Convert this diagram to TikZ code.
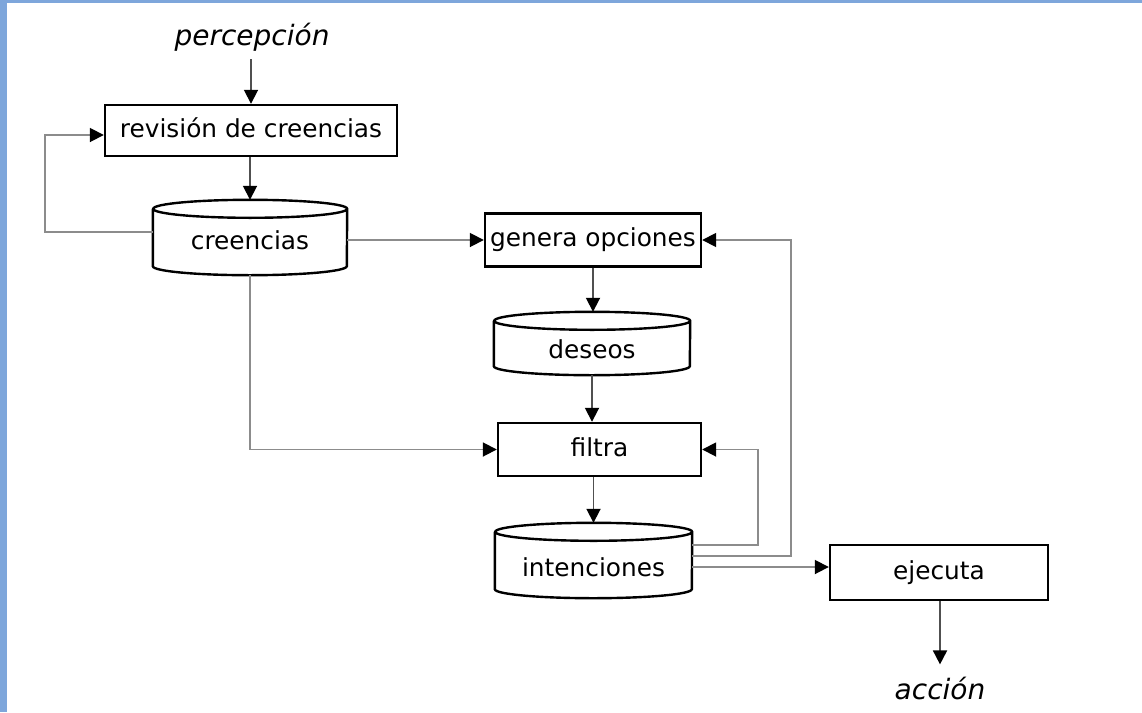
\documentclass[tikz,border=0pt]{standalone}
\usepackage{fontspec}
\setmainfont{DejaVu Sans}
\usetikzlibrary{arrows.meta,calc}
\definecolor{frameblue}{RGB}{126,166,219}
\definecolor{connc}{RGB}{140,140,140}
\definecolor{arrc}{RGB}{80,80,80}
\newcommand\cylshape[2]{%
  \draw[cylline] ([yshift=-9pt]#1.north west) -- ([yshift=9pt]#1.south west)
    arc[start angle=180,end angle=360,x radius=#2,y radius=9pt]
    -- ([yshift=-9pt]#1.north east)
    arc[start angle=0,end angle=360,x radius=#2,y radius=9pt];}
\begin{document}
\begin{tikzpicture}[x=1pt,y=1pt,
  lbl/.style={font=\fontsize{24.8}{28}\selectfont, inner sep=0pt},
  box/.style={lbl, draw=black, line width=2.4pt, rectangle, text height=18pt, text depth=5pt},
  cyl/.style n args={3}{lbl, rectangle, minimum width=#1, minimum height=#2, text height=#3, text depth=0pt},
  cylline/.style={draw=black, line width=2.4pt, fill=white},
  io/.style={font=\fontsize{28}{32}\selectfont\itshape, inner sep=0pt},
  tip/.style={-{Triangle[length=14pt,width=14pt,color=black]}},
  arr/.style={tip, draw=arrc, line width=1.8pt},
  conn/.style={tip, draw=connc, line width=1.8pt}
]
\useasboundingbox (0,0) rectangle (1142,-712);
\fill[white] (0,0) rectangle (1142,-712);
\fill[frameblue] (0,0) rectangle (7,-712);
\fill[frameblue] (0,0) rectangle (1142,-3);

% nodes
\node[io] (perc) at (252,-37) {percepción};
\node[box, minimum width=292pt, minimum height=51pt] (rev) at (251,-130.5) {revisión de creencias};
\node[cyl={194pt}{75pt}{24pt}] (cre) at (250,-237.5) {creencias};
\node[box, minimum width=216pt, minimum height=53pt] (gen) at (593,-240) {genera opciones};
\node[cyl={196pt}{63pt}{30pt}] (des) at (592,-343.5) {deseos};
\node[box, minimum width=203pt, minimum height=53pt] (fil) at (599.5,-449.5) {filtra};
\node[cyl={197pt}{75pt}{32pt}] (int) at (593.5,-560.5) {intenciones};
\node[box, minimum width=218pt, minimum height=55pt] (eje) at (939,-572.5) {ejecuta};
\node[io] (acc) at (940,-688) {acción};

% cylinder outlines
\cylshape{cre}{97pt}
\cylshape{des}{98pt}
\cylshape{int}{98.5pt}
\node[cyl={194pt}{75pt}{24pt}] at (cre) {creencias};
\node[cyl={196pt}{63pt}{30pt}] at (des) {deseos};
\node[cyl={197pt}{75pt}{32pt}] at (int) {intenciones};

% helper coordinates
\coordinate (loopL) at (45,-232);
\coordinate (cL) at ([yshift=5.5pt]cre.west);
\coordinate (i1) at ([yshift=15.5pt]int.east);
\coordinate (i2) at ([yshift=4.5pt]int.east);
\coordinate (i3) at ([yshift=-6.5pt]int.east);

% connectors
\draw[arr, shorten <=8pt] (perc.south -| rev.north) -- (rev.north);
\draw[arr] (rev.south -| cre.north) -- (cre.north);
\draw[conn] (cL) -- (loopL) |- ([yshift=-4.5pt]rev.west);
\draw[conn] (cre.east |- gen.west) -- (gen.west);
\draw[conn] (cre.south) |- (fil.west);
\draw[arr] (gen.south) -- (gen.south |- des.north);
\draw[arr] (des.south) -- (des.south |- fil.north);
\draw[arr] (int.north |- fil.south) -- (int.north);
\draw[conn] (i1) -| ([xshift=56pt]fil.east) -- (fil.east);
\draw[conn] (i2) -| ([xshift=89pt]gen.east) -- (gen.east);
\draw[conn] (i3) -- (eje.west |- i3);
\draw[arr, shorten >=12pt] (eje.south -| acc.north) -- (acc.north);
\end{tikzpicture}
\end{document}
